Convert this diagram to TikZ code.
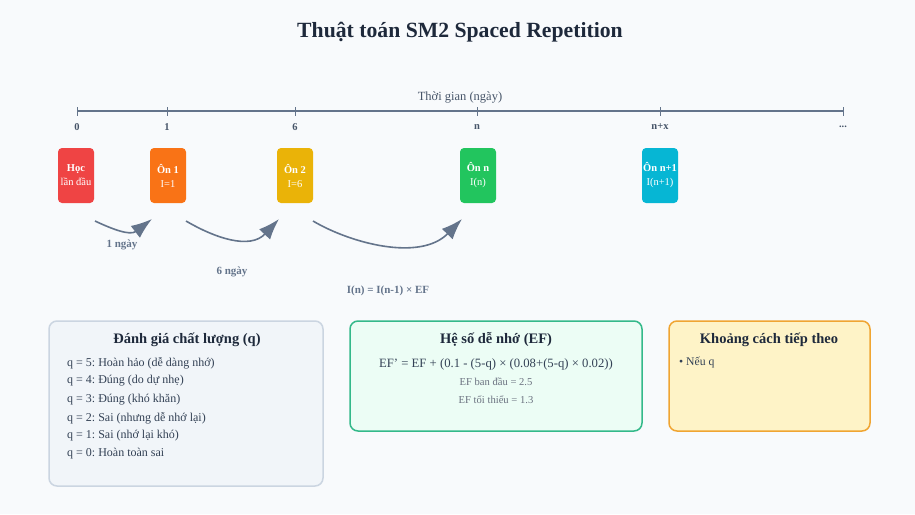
\documentclass[tikz,border=0pt]{standalone}
\usepackage{fontspec}
\setmainfont{Liberation Serif}
\usetikzlibrary{arrows.meta}
\frenchspacing
\definecolor{bgc}{HTML}{F8FAFC}
\definecolor{titlec}{HTML}{1E293B}
\definecolor{axisc}{HTML}{64748B}
\definecolor{tickc}{HTML}{475569}
\definecolor{txtc}{HTML}{334155}
\definecolor{grayc}{HTML}{6B7280}
\definecolor{cred}{HTML}{EF4444}
\definecolor{corange}{HTML}{F97316}
\definecolor{cyellow}{HTML}{EAB308}
\definecolor{cgreen}{HTML}{22C55E}
\definecolor{ccyan}{HTML}{06B6D4}
\definecolor{b1fill}{HTML}{F1F5F9}
\definecolor{b1draw}{HTML}{CBD5E1}
\definecolor{b2fill}{HTML}{ECFDF5}
\definecolor{b2draw}{HTML}{34B98A}
\definecolor{b3fill}{HTML}{FEF3C7}
\definecolor{b3draw}{HTML}{F0A532}
\tikzset{
  evbox/.style={rounded corners=4pt, minimum width=36pt, minimum height=55pt, inner sep=0pt,
    text=white, font=\fontsize{10.5}{14}\selectfont\bfseries, align=center},
  ticklab/.style={text=tickc, font=\fontsize{10.5}{12}\selectfont\bfseries},
  arr/.style={draw=axisc, line width=1.6pt, -{Latex[length=21pt,width=15pt]}},
  arrlab/.style={text=axisc, font=\fontsize{11}{12}\selectfont\bfseries},
  panel/.style={rounded corners=8pt, line width=1.5pt},
  ptitle/.style={text=titlec, font=\fontsize{14.5}{17}\selectfont\bfseries},
  item/.style={anchor=west, text=txtc, font=\fontsize{12}{14}\selectfont, inner sep=0pt},
}
\begin{document}
\begin{tikzpicture}[x=1pt,y=-1pt]
\fill[bgc] (0,0) rectangle (915,514);
\useasboundingbox (0,0) rectangle (915,514);

\node[text=titlec, font=\fontsize{21.7}{26}\selectfont\bfseries] (title) at (460,32) {Thuật toán SM2 Spaced Repetition};

% axis
\coordinate (axL) at (77,111);
\coordinate (axR) at (843,111);
\draw[axisc, line width=1.8pt] (axL) -- (axR);
\node[text=tickc, font=\fontsize{12.5}{14}\selectfont] (axlab) at (460,98) {Thời gian (ngày)};
\foreach \x/\l/\n in {77/0/t0, 167/1/t1, 295/6/t2, 477/n/t3, 660/n+x/t4}{
  \draw[axisc, line width=1pt] (\x,107) -- (\x,116);
  \node[ticklab] (\n) at (\x,127) {\l};
}
\draw[axisc, line width=1pt] (843,107) -- (843,116);
\node[ticklab] (t5) at (843,127) {...};

% event boxes
\node[evbox, fill=cred] (hoc) at (76,175.5) {Học\\\mdseries lần đầu};
\node[evbox, fill=corange] (on1) at (168,175.5) {Ôn 1\\\mdseries I=1};
\node[evbox, fill=cyellow] (on2) at (295,175.5) {Ôn 2\\\mdseries I=6};
\node[evbox, fill=cgreen] (onn) at (478,175.5) {Ôn n\\\mdseries I(n)};
\node[evbox, fill=ccyan] (onn1) at (660,175.5) {Ôn n+1\\\mdseries I(n+1)};

% arrows
\coordinate (a1s) at (95,221);
\coordinate (a1e) at (152,219);
\coordinate (a2s) at (186,221);
\coordinate (a2e) at (279,219);
\coordinate (a3s) at (313,221);
\coordinate (a3e) at (462,219);
\draw[arr] (a1s) .. controls (112,229) and (130,236) .. (a1e);
\draw[arr] (a2s) .. controls (215,238) and (250,250) .. (a2e);
\draw[arr] (a3s) .. controls (350,243) and (420,262) .. (a3e);
\node[arrlab] (l1) at (122,245) {1 ngày};
\node[arrlab] (l2) at (232,272) {6 ngày};
\node[arrlab] (l3) at (388,291) {I(n) = I(n-1) × EF};

% panels
\draw[panel, fill=b1fill, draw=b1draw] (49,321) rectangle (323,486);
\node[ptitle] (p1t) at (187,340) {Đánh giá chất lượng (q)};
\node[item] (q5) at (67,363) {q = 5: Hoàn hảo (dễ dàng nhớ)};
\node[item] (q4) at (67,381) {q = 4: Đúng (do dự nhẹ)};
\node[item] (q3) at (67,399.5) {q = 3: Đúng (khó khăn)};
\node[item] (q2) at (67,418) {q = 2: Sai (nhưng dễ nhớ lại)};
\node[item] (q1) at (67,436) {q = 1: Sai (nhớ lại khó)};
\node[item] (q0) at (67,454) {q = 0: Hoàn toàn sai};

\draw[panel, fill=b2fill, draw=b2draw] (350,321) rectangle (642,431);
\node[ptitle] (p2t) at (496,340) {Hệ số dễ nhớ (EF)};
\node[text=txtc, font=\fontsize{12.7}{14}\selectfont] (f1) at (496,364) {EF\char"0027{} = EF + (0.1 - (5-q) × (0.08+(5-q) × 0.02))};
\node[text=grayc, font=\fontsize{10.6}{12}\selectfont] (f2) at (496,381.5) {EF ban đầu = 2.5};
\node[text=grayc, font=\fontsize{10.6}{12}\selectfont] (f3) at (496,400) {EF tối thiểu = 1.3};

\draw[panel, fill=b3fill, draw=b3draw] (669,321) rectangle (870,431);
\node[ptitle] (p3t) at (769,340) {Khoảng cách tiếp theo};
\node[item, font=\fontsize{11.7}{13}\selectfont] (n1) at (679,363) {• Nếu q};
\end{tikzpicture}
\end{document}
